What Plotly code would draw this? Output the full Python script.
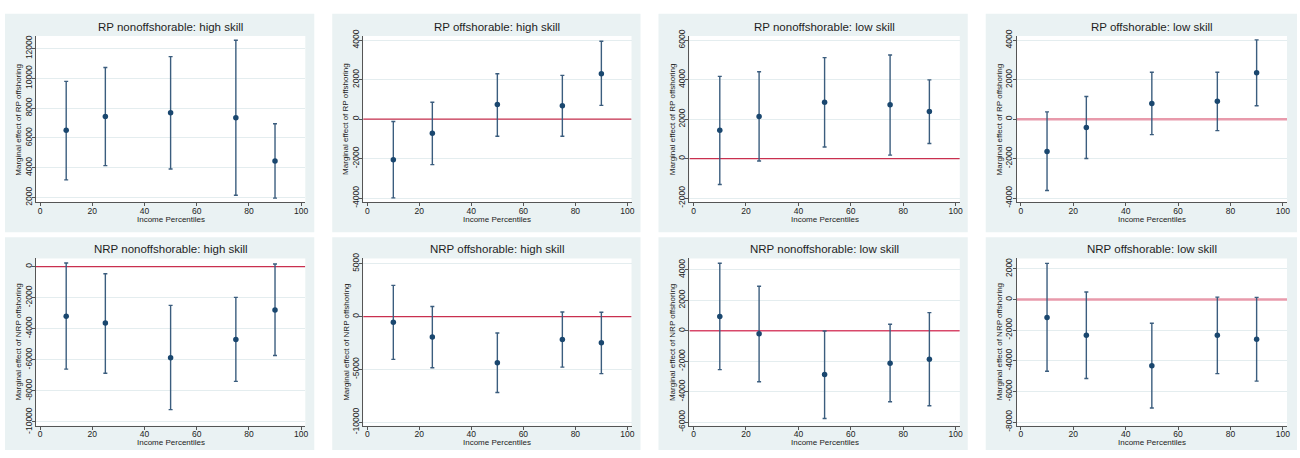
import plotly.graph_objects as go

# ---------------- data ----------------
pctl = [10, 25, 50, 75, 90]
x_ticks = [0, 20, 40, 60, 80, 100]

titles = [
    "RP nonoffshorable: high skill", "RP offshorable: high skill",
    "RP nonoffshorable: low skill", "RP offshorable: low skill",
    "NRP nonoffshorable: high skill", "NRP offshorable: high skill",
    "NRP nonoffshorable: low skill", "NRP offshorable: low skill",
]
ytitles = ["Marginal effect of RP offshoring"] * 4 + ["Marginal effect of NRP offshoring"] * 4
xtitle = "Income Percentiles"

est_rp_nonoff_high = [6510, 7440, 7700, 7360, 4460]
lo_rp_nonoff_high = [3190, 4140, 3920, 2150, 1960]
hi_rp_nonoff_high = [9800, 10730, 11460, 12560, 6950]

est_rp_off_high = [-2050, -710, 740, 680, 2300]
lo_rp_off_high = [-3985, -2300, -860, -860, 700]
hi_rp_off_high = [-120, 860, 2300, 2220, 3950]

est_rp_nonoff_low = [1440, 2140, 2860, 2730, 2390]
lo_rp_nonoff_low = [-1310, -115, 590, 180, 770]
hi_rp_nonoff_low = [4170, 4400, 5120, 5250, 3990]

est_rp_off_low = [-1630, -420, 790, 910, 2350]
lo_rp_off_low = [-3610, -1990, -780, -580, 680]
hi_rp_off_low = [370, 1150, 2380, 2380, 4020]

est_nrp_nonoff_high = [-3190, -3630, -5870, -4700, -2800]
lo_nrp_nonoff_high = [-6600, -6870, -9210, -7390, -5720]
hi_nrp_nonoff_high = [230, -460, -2500, -1980, 170]

est_nrp_off_high = [-550, -1930, -4360, -2180, -2490]
lo_nrp_off_high = [-4050, -4850, -7180, -4790, -5400]
hi_nrp_off_high = [2950, 950, -1560, 430, 400]

est_nrp_nonoff_low = [940, -190, -2870, -2130, -1870]
lo_nrp_nonoff_low = [-2550, -3340, -5750, -4660, -4920]
hi_nrp_nonoff_low = [4430, 2920, -10, 430, 1190]

est_nrp_off_low = [-1170, -2330, -4320, -2330, -2590]
lo_nrp_off_low = [-4680, -5150, -7070, -4830, -5320]
hi_nrp_off_low = [2360, 490, -1550, 160, 140]

y_ticks_1 = [2000, 4000, 6000, 8000, 10000, 12000]
y_ticks_2 = [-4000, -2000, 0, 2000, 4000]
y_ticks_3 = [-2000, 0, 2000, 4000, 6000]
y_ticks_4 = [-4000, -2000, 0, 2000, 4000]
y_ticks_5 = [-10000, -8000, -6000, -4000, -2000, 0]
y_ticks_6 = [-10000, -5000, 0, 5000]
y_ticks_7 = [-6000, -4000, -2000, 0, 2000, 4000]
y_ticks_8 = [-8000, -6000, -4000, -2000, 0, 2000]

ref_value = 0

panels = [
    (est_rp_nonoff_high, lo_rp_nonoff_high, hi_rp_nonoff_high, y_ticks_1),
    (est_rp_off_high, lo_rp_off_high, hi_rp_off_high, y_ticks_2),
    (est_rp_nonoff_low, lo_rp_nonoff_low, hi_rp_nonoff_low, y_ticks_3),
    (est_rp_off_low, lo_rp_off_low, hi_rp_off_low, y_ticks_4),
    (est_nrp_nonoff_high, lo_nrp_nonoff_high, hi_nrp_nonoff_high, y_ticks_5),
    (est_nrp_off_high, lo_nrp_off_high, hi_nrp_off_high, y_ticks_6),
    (est_nrp_nonoff_low, lo_nrp_nonoff_low, hi_nrp_nonoff_low, y_ticks_7),
    (est_nrp_off_low, lo_nrp_off_low, hi_nrp_off_low, y_ticks_8),
]

# ---------------- layout geometry (pixels) ----------------
W, H = 1300, 458
bg_x = [(5, 315), (333, 642), (660, 970), (988, 1300)]
bg_y = [(7, 233), (238, 458)]
plot_x = [(36, 306), (364, 633), (691, 962), (1019, 1290)]
plot_y = [(30, 202), (260, 433)]
y_ranges = [(1676, 12842), (-4213, 4213), (-2213, 6213), (-4213, 4213),
            (-10250, 522), (-10337, 5491), (-6234, 4745), (-8233, 2677)]
x_range = (-1.6, 101.6)
zero_style = [None, ("#c9304f", 1.2), ("#c9304f", 1.2), ("#e89aab", 2.6),
              ("#c9304f", 1.2), ("#c9304f", 1.2), ("#d8486a", 1.6), ("#e89aab", 2.6)]

FONT = "Liberation Sans, Arial, sans-serif"
BG = "#eaf2f3"
NAVY = "#1a476f"
BAR = "#3b5d7e"
AXIS = "#555555"


def px_x(v):
    return v / W


def px_y(v):
    return 1 - v / H


fig = go.Figure()
shapes = []
annotations = []
layout = {}

for i, (est, lo, hi, yt) in enumerate(panels):
    r, c = divmod(i, 4)
    n = i + 1
    xa = "x" if n == 1 else f"x{n}"
    ya = "y" if n == 1 else f"y{n}"
    # zero reference line (drawn first, so it sits under the estimates)
    zs = zero_style[i]
    if zs is not None and y_ranges[i][0] < ref_value < y_ranges[i][1]:
        fig.add_trace(go.Scatter(
            x=list(x_range), y=[ref_value, ref_value], mode="lines",
            xaxis=xa, yaxis=ya, showlegend=False, hoverinfo="skip",
            line=dict(color=zs[0], width=zs[1]),
        ))
    fig.add_trace(go.Scatter(
        x=pctl, y=est, mode="markers", xaxis=xa, yaxis=ya, showlegend=False,
        marker=dict(color=NAVY, size=5.5),
        error_y=dict(type="data", symmetric=False,
                     array=[h - e for h, e in zip(hi, est)],
                     arrayminus=[e - l for e, l in zip(est, lo)],
                     color=BAR, thickness=1.4, width=2),
    ))
    x0, x1 = plot_x[c]
    y0, y1 = plot_y[r]
    layout[f"xaxis{'' if n == 1 else n}"] = dict(
        domain=[px_x(x0), px_x(x1)], anchor=ya, range=list(x_range),
        tickvals=x_ticks, ticktext=[str(t) for t in x_ticks],
        showgrid=False, zeroline=False, showline=True, linecolor=AXIS, linewidth=1,
        ticks="outside", ticklen=3, tickcolor=AXIS, ticklabelstandoff=-3,
        tickfont=dict(family=FONT, size=8.5, color="#222"),
    )
    layout[f"yaxis{'' if n == 1 else n}"] = dict(
        domain=[px_y(y1), px_y(y0)], anchor=xa, range=list(y_ranges[i]),
        tickvals=yt, ticktext=[str(t) for t in yt], tickangle=-90,
        showgrid=True, gridcolor="#e4edef", gridwidth=1,
        zeroline=False, showline=True, linecolor=AXIS, linewidth=1,
        ticks="outside", ticklen=3, tickcolor=AXIS, ticklabelstandoff=-3,
        tickfont=dict(family=FONT, size=8.5, color="#222"),
    )
    # panel background and white plot region
    bx0, bx1 = bg_x[c]
    by0, by1 = bg_y[r]
    shapes.append(dict(type="rect", xref="paper", yref="paper", layer="below",
                       x0=px_x(bx0), x1=px_x(bx1), y0=px_y(by1), y1=px_y(by0),
                       fillcolor=BG, line=dict(width=0)))
    shapes.append(dict(type="rect", xref="paper", yref="paper", layer="below",
                       x0=px_x(x0), x1=px_x(x1), y0=px_y(y1), y1=px_y(y0),
                       fillcolor="white", line=dict(width=0)))
    # titles
    annotations.append(dict(text=titles[i], xref="paper", yref="paper",
                            x=px_x((x0 + x1) / 2), y=px_y(y0 - 9.5),
                            xanchor="center", yanchor="middle", showarrow=False,
                            font=dict(family=FONT, size=11.5, color="#1e1e1e")))
    annotations.append(dict(text=ytitles[i], xref="paper", yref="paper",
                            x=px_x(x0 - 17.5), y=px_y((y0 + y1) / 2), textangle=-90,
                            xanchor="center", yanchor="middle", showarrow=False,
                            font=dict(family=FONT, size=8, color="#222")))
    annotations.append(dict(text=xtitle, xref="paper", yref="paper",
                            x=px_x((x0 + x1) / 2), y=px_y(y1 + 17.5),
                            xanchor="center", yanchor="middle", showarrow=False,
                            font=dict(family=FONT, size=8, color="#222")))

fig.update_layout(
    width=W, height=H, margin=dict(l=0, r=0, t=0, b=0),
    paper_bgcolor="white", plot_bgcolor="rgba(0,0,0,0)",
    shapes=shapes, annotations=annotations, showlegend=False,
    **layout,
)

fig.write_html(
    "out.html",
    config={"displayModeBar": False},
    post_script="document.body.style.margin='0';document.body.style.padding='0';"
                "document.body.style.overflow='hidden';",
)
